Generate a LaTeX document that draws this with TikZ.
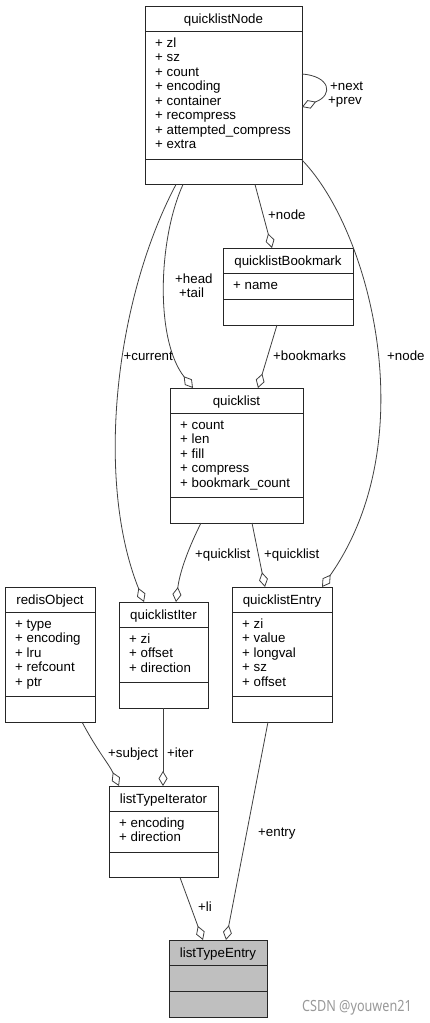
\documentclass[tikz,border=0pt]{standalone}
\usepackage{fontspec}
\setmainfont{Liberation Sans}
\newfontfamily\wmfont{Noto Sans}
\usetikzlibrary{arrows.meta}

\tikzset{
  classbox/.style={draw=black!85, line width=1pt, fill=white, inner sep=0pt, outer sep=0pt},
  conn/.style={draw=black!75, line width=0.8pt, -{Diamond[open, length=15pt, width=9pt]}},
  lbl/.style={inner sep=0pt, anchor=base west},
}

% #1 extra box style, #2 name, #3 left, #4 top, #5 right, #6 rows, #7 title, #8 attributes
\newcommand{\umlclass}[8][]{%
  \pgfmathsetmacro{\clsT}{#4+25.5}%
  \pgfmathsetmacro{\clsA}{\clsT+max(#6,1)*14.5+11.5}%
  \pgfmathsetmacro{\clsW}{#5-#3}%
  \pgfmathsetmacro{\clsH}{\clsA+25.5-#4}%
  \node[classbox, #1, minimum width=\clsW pt, minimum height=\clsH pt, anchor=north west] (#2) at (#3,#4) {};
  \draw[black!85, line width=1pt] (#3,\clsT) -- (#5,\clsT) (#3,\clsA) -- (#5,\clsA);
  \node[inner sep=0pt, anchor=base] (#2-title) at ({(#3+#5)/2},\clsT-8.5) {#7};
  \ifnum#6>0
    \foreach \attr [count=\i] in {#8}
      \node[lbl] (#2-\i) at (#3+10,\clsT+1+14.5*\i) {+ \attr};
  \fi
}

\begin{document}
\begin{tikzpicture}[x=1pt, y=-1pt, font=\fontsize{13.3}{14.5}\selectfont]
  \useasboundingbox (0,0) rectangle (430,1023);
  \fill[white] (0,0) rectangle (430,1023);

  % classes
  \umlclass{qnode}{145}{6}{302}{8}{quicklistNode}{zl, sz, count, encoding, container, recompress, attempted\_compress, extra}
  \umlclass{qbookmark}{223}{248}{353}{1}{quicklistBookmark}{name}
  \umlclass{qlist}{170}{388}{303}{5}{quicklist}{count, len, fill, compress, bookmark\_count}
  \umlclass{robj}{5}{587}{95}{5}{redisObject}{type, encoding, lru, refcount, ptr}
  \umlclass{qiter}{119}{602}{208}{3}{quicklistIter}{zi, offset, direction}
  \umlclass{qentry}{232}{587}{332}{5}{quicklistEntry}{zi, value, longval, sz, offset}
  \umlclass{ltiter}{109}{786}{218}{2}{listTypeIterator}{encoding, direction}
  \umlclass[fill=black!25]{ltentry}{169}{940}{267}{0}{listTypeEntry}{}

  % quicklistNode links
  \draw[conn] ([yshift=-68pt]qnode.north east) .. controls +(28,2) and +(32,-12) .. ([yshift=-101pt]qnode.north east);
  \node[lbl] (lbl-next) at (330,90.5) {+next};
  \node[lbl] (lbl-prev) at (328,104.5) {+prev};

  \draw[conn] ([xshift=110pt]qnode.south west) -- ([xshift=49pt]qbookmark.north west);
  \node[lbl] (lbl-bmnode) at (268,219) {+node};

  \draw[conn] ([xshift=38pt]qnode.south west) .. controls +(-25,55) and +(-38,-48) .. ([xshift=23pt]qlist.north west);
  \node[lbl] (lbl-head) at (175,283) {+head};
  \node[lbl] (lbl-tail) at (179,297) {+tail};

  \draw[conn] ([xshift=31pt]qnode.south west) .. controls +(-61,115) and +(-49,-122) .. ([xshift=25pt]qiter.north west);
  \node[lbl, anchor=base east] (lbl-current) at (173,360) {+current};

  \draw[conn] ([yshift=-154pt]qnode.north east) .. controls +(68,70) and +(103,-147) .. ([xshift=90pt]qentry.north west);
  \node[lbl] (lbl-node) at (387,360) {+node};

  % quicklist links
  \draw[conn] ([xshift=54pt]qbookmark.south west) -- ([xshift=88pt]qlist.north west);
  \node[lbl] (lbl-bookmarks) at (273,360) {+bookmarks};

  \draw[conn] ([xshift=31pt]qlist.south west) .. controls +(-11,22) and +(4,-32) .. ([xshift=57pt]qiter.north west);
  \node[lbl] (lbl-qliter) at (195,558) {+quicklist};

  \draw[conn] ([xshift=82pt]qlist.south west) -- ([xshift=33pt]qentry.north west);
  \node[lbl] (lbl-qlentry) at (264,558) {+quicklist};

  % iterator and entry links
  \draw[conn] ([xshift=77pt]robj.south west) .. controls +(16,30) and +(-10,-22) .. ([xshift=10pt]ltiter.north west);
  \node[lbl] (lbl-subject) at (108,757) {+subject};

  \draw[conn] ([xshift=44pt]qiter.south west) -- ([xshift=54pt]ltiter.north west);
  \node[lbl] (lbl-iter) at (167,757) {+iter};

  \draw[conn] ([xshift=36pt]qentry.south west) -- ([xshift=57pt]ltentry.north west);
  \node[lbl] (lbl-entry) at (258,836) {+entry};

  \draw[conn] ([xshift=71pt]ltiter.south west) -- ([xshift=34pt]ltentry.north west);
  \node[lbl] (lbl-li) at (198,911) {+li};

  \node[lbl, text=black!40, font=\wmfont\fontsize{15.4}{16}\selectfont] (csdn) at (302,1011) {\scalebox{0.82}[1]{CSDN @youwen21}};
\end{tikzpicture}
\end{document}
